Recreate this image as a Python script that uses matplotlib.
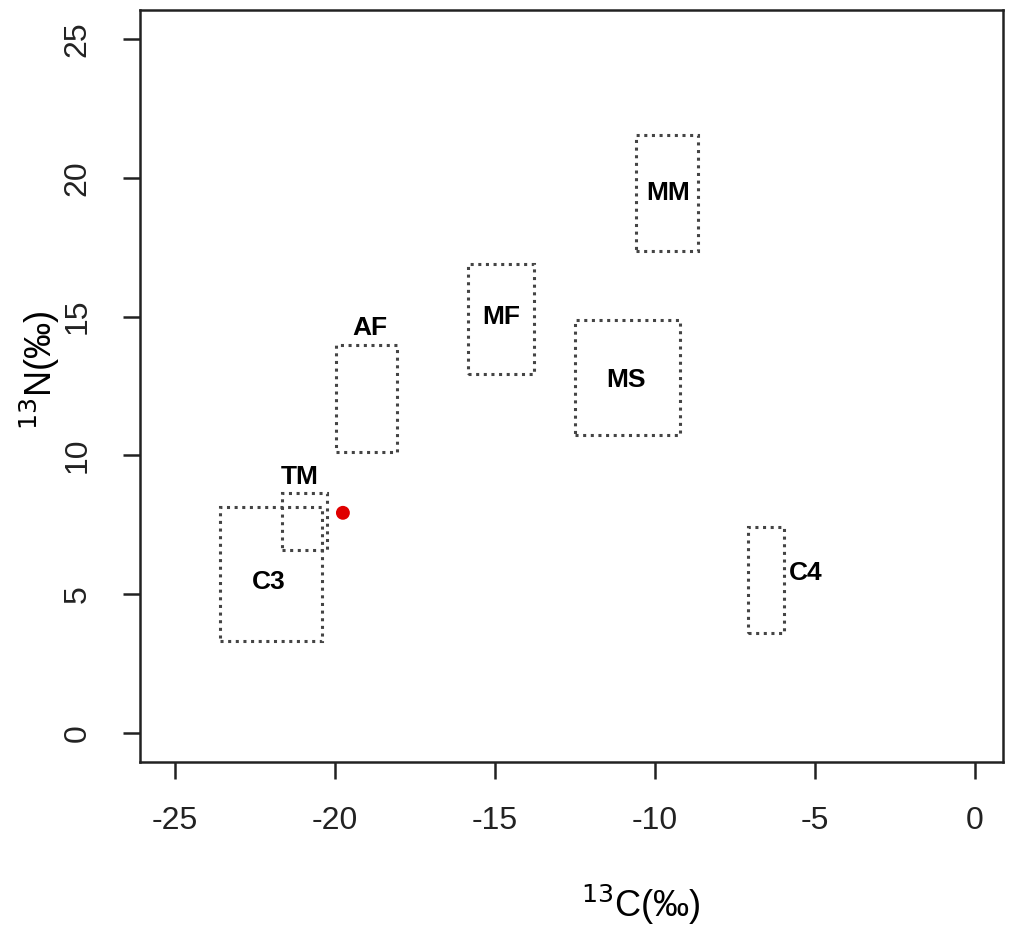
import matplotlib
matplotlib.use("Agg")
import matplotlib.pyplot as plt
from matplotlib.patches import Rectangle

plt.rcParams['font.family'] = ['Liberation Sans', 'DejaVu Sans']

names = ["C3", "TM", "AF", "MF", "MS", "MM", "C4"]
x_min = [-23.59, -21.66, -19.97, -15.84, -12.5, -10.59, -7.09]
x_max = [-20.4, -20.25, -18.06, -13.78, -9.22, -8.66, -5.97]
y_min = [3.32, 6.59, 10.13, 12.94, 10.74, 17.37, 3.6]
y_max = [8.14, 8.65, 13.98, 16.9, 14.88, 21.55, 7.42]
label_x = [-22.06, -21.1, -18.9, -14.8, -10.9, -9.6, -5.3]
label_y = [5.44, 9.22, 14.6, 15.0, 12.7, 19.46, 5.77]
point_x = [-19.75]
point_y = [7.93]
x_ticks = [-25, -20, -15, -10, -5, 0]
y_ticks = [0, 5, 10, 15, 20, 25]

fig = plt.figure(figsize=(10.16, 9.26), dpi=100)
ax = fig.add_axes([140/1016, 1-762/926, 863/1016, 752/926])

for n, x0, x1, y0, y1, lx, ly in zip(names, x_min, x_max, y_min, y_max, label_x, label_y):
    ax.add_patch(Rectangle((x0, y0), x1-x0, y1-y0, fill=False, edgecolor='#444444',
                           linestyle=(0, (1, 1.5)), linewidth=2.2))
    ax.text(lx, ly, n, ha='center', va='center', fontsize=19, fontweight='bold')

ax.scatter(point_x, point_y, s=100, color='#e00000', zorder=5, edgecolors='none')

ax.set_xlim(-26.09, 0.875)
ax.set_ylim(-1.05, 26.05)
ax.set_xticks(x_ticks)
ax.set_yticks(y_ticks)
ax.set_xticklabels([str(v) for v in x_ticks])
ax.set_yticklabels([str(v) for v in y_ticks], rotation=90, va='center')
ax.tick_params(direction='out', length=12, width=1.8, labelsize=23, colors='#222222')
ax.tick_params(axis='x', pad=20)
ax.tick_params(axis='y', pad=22)
for s in ax.spines.values():
    s.set_linewidth(1.8)
    s.set_color('#222222')
ax.set_xlabel("$^{13}$C(‰)", fontsize=26)
ax.set_ylabel("$^{13}$N(‰)", fontsize=26)
ax.xaxis.set_label_coords((641-140)/863, (762-905)/752)
ax.yaxis.set_label_coords((40-140)/863, (762-370)/752)
ax.xaxis.label.set_va('center')
ax.yaxis.label.set_va('center')

fig.savefig("out.png", dpi=100)
